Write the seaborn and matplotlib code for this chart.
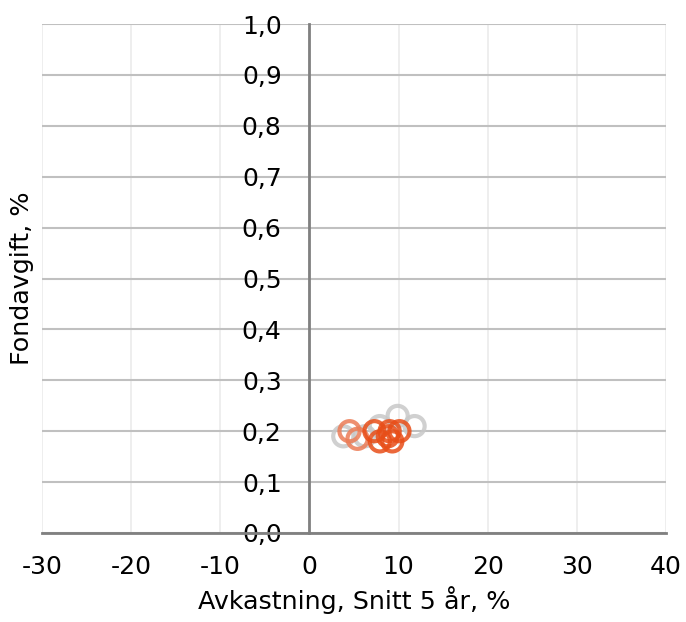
import pandas as pd
import seaborn as sns
import matplotlib.pyplot as plt
from matplotlib.ticker import FuncFormatter

# fund returns (5y avg, %) and fees (%)
gray_x = [3.8, 6.2, 7.9, 9.9, 11.8]
gray_y = [0.19, 0.19, 0.21, 0.23, 0.21]
light_x = [4.5, 5.4]
light_y = [0.20, 0.185]
orange_x = [7.3, 7.9, 8.8, 9.3, 10.1, 9.0]
orange_y = [0.20, 0.18, 0.19, 0.18, 0.20, 0.20]

df = pd.DataFrame({
    "x": gray_x + light_x + orange_x,
    "y": gray_y + light_y + orange_y,
    "grupp": ["gray"] * len(gray_x) + ["light"] * len(light_x) + ["orange"] * len(orange_x),
})
palette = {"gray": "#c8c8c8", "light": "#ec7c56", "orange": "#e84e18"}

sns.set_style("white")
plt.rcParams["font.family"] = ["DejaVu Sans"]
plt.rcParams["axes.unicode_minus"] = False

fig = plt.figure(figsize=(6.86, 6.22), dpi=100)
ax = fig.add_axes([0.0612, 0.1431, 0.9096, 0.8183])

for g in ["gray", "light", "orange"]:
    sub = df[df["grupp"] == g]
    sns.scatterplot(x=sub["x"], y=sub["y"], ax=ax, s=210, facecolors="none",
                    edgecolor=palette[g], linewidth=3, alpha=0.85, zorder=3)

ax.set_xlim(-30, 40)
ax.set_ylim(0, 1.0)
ax.set_xticks(range(-30, 41, 10))
ax.set_yticks([i / 10 for i in range(11)])
ax.yaxis.set_major_formatter(FuncFormatter(lambda v, p: f"{v:.1f}".replace(".", ",")))

ax.grid(axis="y", color="#c0c0c0", linewidth=1.5)
ax.grid(axis="x", color="#ebebeb", linewidth=1.2)
ax.set_axisbelow(True)

for s in ["top", "right"]:
    ax.spines[s].set_visible(False)
ax.spines["left"].set_position(("data", 0))
ax.spines["left"].set_color("#808080")
ax.spines["left"].set_linewidth(2)
ax.spines["bottom"].set_color("#808080")
ax.spines["bottom"].set_linewidth(2)

ax.tick_params(axis="both", colors="#808080", width=2, length=6, labelsize=18,
               labelcolor="black", direction="out")
ax.tick_params(axis="y", pad=14)
ax.tick_params(axis="x", pad=10)

ax.set_xlabel("Avkastning, Snitt 5 år, %", fontsize=18.3, labelpad=5, color="black")
ax.set_ylabel("Fondavgift, %", fontsize=18.3, color="black")
ax.yaxis.set_label_coords(-0.013, 0.5)

fig.savefig("out.png", dpi=100)
